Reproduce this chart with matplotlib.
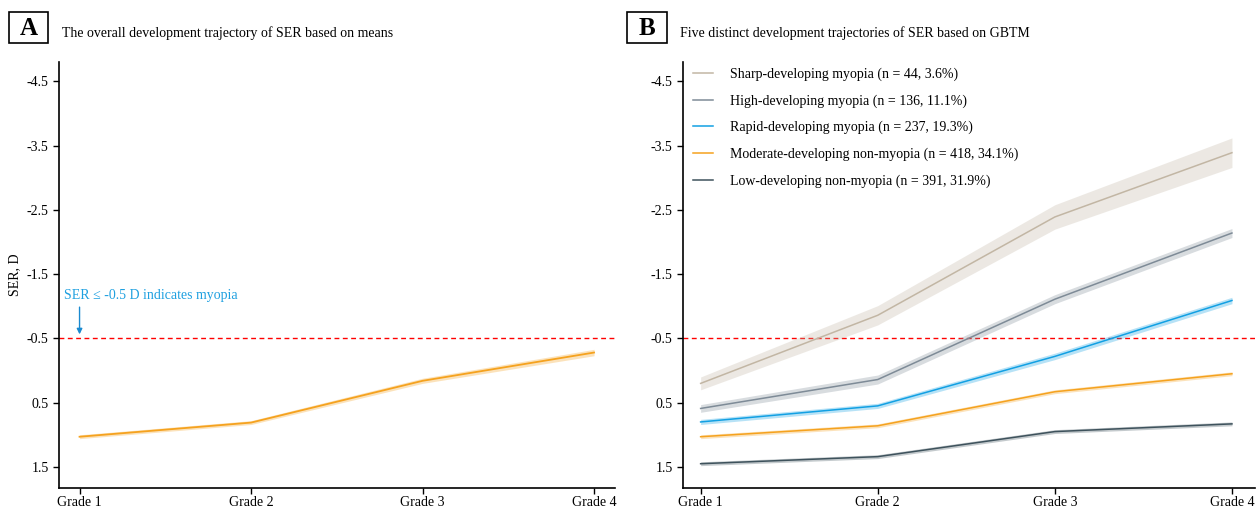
import numpy as np
import matplotlib.pyplot as plt
from matplotlib.patches import Rectangle

plt.rcParams['font.family'] = ['Liberation Serif', 'DejaVu Serif']

grades = ["Grade 1", "Grade 2", "Grade 3", "Grade 4"]
x = np.arange(1, 5)

# panel A: overall mean SER
overall_mean = [1.03, 0.81, 0.16, -0.28]
overall_ci = [0.03, 0.03, 0.04, 0.05]

# panel B: GBTM groups
group_labels = [
    "Sharp-developing myopia (n = 44, 3.6%)",
    "High-developing myopia (n = 136, 11.1%)",
    "Rapid-developing myopia (n = 237, 19.3%)",
    "Moderate-developing non-myopia (n = 418, 34.1%)",
    "Low-developing non-myopia (n = 391, 31.9%)",
]
group_colors = ["#C2B6A4", "#7E8B97", "#12A0E3", "#F5A21E", "#3E525C"]
sharp = [0.20, -0.86, -2.39, -3.39]
high = [0.59, 0.14, -1.11, -2.14]
rapid = [0.80, 0.55, -0.22, -1.09]
moderate = [1.03, 0.86, 0.33, 0.05]
low = [1.45, 1.34, 0.95, 0.83]
group_means = [sharp, high, rapid, moderate, low]
sharp_ci = [0.10, 0.15, 0.19, 0.23]
high_ci = [0.06, 0.07, 0.07, 0.07]
rapid_ci = [0.04, 0.04, 0.05, 0.05]
moderate_ci = [0.03, 0.03, 0.03, 0.03]
low_ci = [0.03, 0.03, 0.03, 0.03]
group_cis = [sharp_ci, high_ci, rapid_ci, moderate_ci, low_ci]

yticks = [-4.5, -3.5, -2.5, -1.5, -0.5, 0.5, 1.5]

fig = plt.figure(figsize=(12.6, 5.09), dpi=100)
axA = fig.add_axes([0.0468, 0.041, 0.441, 0.837])
axB = fig.add_axes([0.542, 0.041, 0.454, 0.837])


def style_axis(ax, xlim):
    ax.set_xlim(*xlim)
    ax.set_ylim(1.83, -4.8)
    ax.set_xticks(x)
    ax.set_xticklabels(grades)
    ax.set_yticks(yticks)
    ax.set_yticklabels([f"{v:.1f}" for v in yticks])
    for s in ["top", "right"]:
        ax.spines[s].set_visible(False)
    for s in ["left", "bottom"]:
        ax.spines[s].set_linewidth(1.2)
    ax.tick_params(labelsize=10, length=4, width=1.0, colors="black")
    ax.tick_params(axis="x", pad=2)
    ax.axhline(-0.5, color="#FF0000", ls=(0, (3.5, 2.5)), lw=1.0, zorder=1)


# ---- panel A
style_axis(axA, (0.88, 4.12))
m = np.array(overall_mean)
c = np.array(overall_ci)
axA.fill_between(x, m - c, m + c, color="#F5A21E", alpha=0.3, lw=0)
axA.plot(x, m, color="#F5A21E", lw=1.3)
axA.set_ylabel("SER, D", fontsize=10)
axA.annotate("", xy=(1, -0.52), xytext=(1, -1.03),
             arrowprops=dict(arrowstyle="-|>", color="#1A8AD0", lw=1.0,
                             mutation_scale=8))
axA.text(0.91, -1.17, "SER \u2264 -0.5 D indicates myopia", color="#1EA0E0",
         fontsize=10, va="center", ha="left")

# ---- panel B
style_axis(axB, (0.9, 4.13))
for mean, ci, col, lab in zip(group_means, group_cis, group_colors, group_labels):
    m = np.array(mean)
    c = np.array(ci)
    axB.fill_between(x, m - c, m + c, color=col, alpha=0.3, lw=0)
    axB.plot(x, m, color=col, lw=1.1, label=lab)
axB.legend(loc="upper left", frameon=False, fontsize=10, handlelength=1.5,
           handletextpad=1.2, labelspacing=0.95, bbox_to_anchor=(0.0, 1.01),
           borderaxespad=0.3)

# panel letters and titles
for lx, tx, letter, title in [(0.007, 0.049, "A", "The overall development trajectory of SER based on means"),
                              (0.498, 0.540, "B", "Five distinct development trajectories of SER based on GBTM")]:
    fig.patches.append(Rectangle((lx, 0.916), 0.031, 0.06, transform=fig.transFigure,
                                 fill=False, ec="black", lw=1.2))
    fig.text(lx + 0.0155, 0.944, letter, fontsize=18, fontweight="bold",
             ha="center", va="center")
    fig.text(tx, 0.935, title, fontsize=10, ha="left", va="center")

fig.savefig("out.png", dpi=100)
